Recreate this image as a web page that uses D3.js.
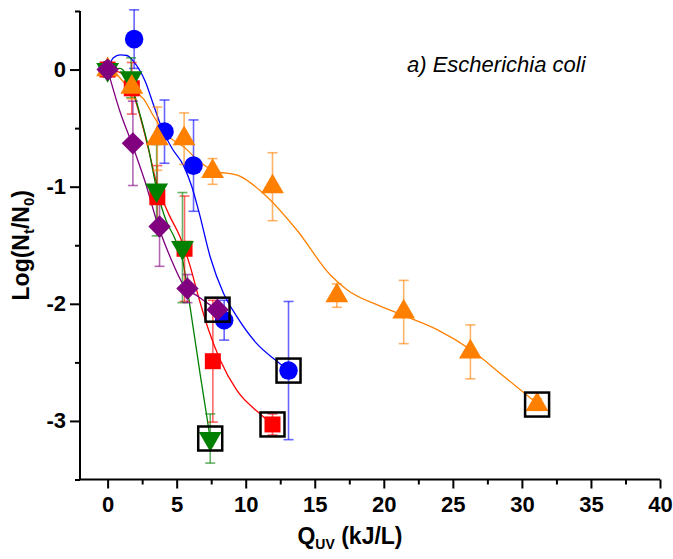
<!DOCTYPE html>
<html>
<head>
<meta charset="utf-8">
<script src="https://cdn.jsdelivr.net/npm/d3@7"></script>
<style>
  html, body { margin: 0; padding: 0; background: #fff; }
  svg { display: block; font-family: "Liberation Sans", Arial, sans-serif; }
</style>
</head>
<body>
<div id="chart"></div>
<script>
// --- measured points (x = Q_UV kJ/L, y = log(Nt/N0), e = error half-width) ---
const blueX  = [0, 1.92, 4.12, 6.22, 8.44, 13.1];
const blueY  = [0, 0.26, -0.53, -0.82, -2.14, -2.57];
const blueE  = [0, 0.25, 0.27, 0.39, 0.17, 0.59];

const redX   = [0, 1.75, 3.6, 5.57, 7.62, 11.94];
const redY   = [0, -0.16, -1.09, -1.53, -2.49, -3.03];
const redE   = [0, 0.22, 0.27, 0.45, 0.52, 0.09];

const greenX = [0, 1.7, 3.55, 5.42, 7.43];
const greenY = [0, -0.07, -1.03, -1.52, -3.15];
const greenE = [0, 0.17, 0.39, 0.47, 0.21];

const orangeX = [0, 1.75, 3.6, 5.54, 7.6, 11.94, 16.6, 21.44, 26.27, 31.1];
const orangeY = [0, -0.15, -0.59, -0.59, -0.87, -1.0, -1.93, -2.07, -2.41, -2.86];
const orangeE = [0, 0.1, 0.27, 0.22, 0.11, 0.29, 0.1, 0.27, 0.23, 0.05];

const purpleX = [0, 1.83, 3.76, 5.78, 7.96];
const purpleY = [0, -0.63, -1.34, -1.87, -2.05];
const purpleE = [0, 0.36, 0.34, 0.12, 0];

// --- fitted curves ---
const blueFit = [[0,0],[0.42,0.1],[0.9,0.125],[1.4,0.12],[1.87,0.07],[2.72,-0.1],[3.32,-0.3],
  [3.93,-0.5],[4.65,-0.67],[5.5,-0.82],[6.1,-1.0],[6.58,-1.2],[7.43,-1.6],[8.39,-1.91],
  [9.36,-2.11],[10.8,-2.34],[12.26,-2.49],[13.1,-2.57]];
const redFit = [[0,0],[1,-0.03],[1.75,-0.17],[2.4,-0.42],[3.0,-0.7],[3.5,-0.95],[4.41,-1.23],
  [5.25,-1.43],[5.98,-1.68],[6.58,-1.94],[7.3,-2.22],[8.15,-2.48],[9.36,-2.74],[11.05,-2.94],[11.94,-3.03]];
const greenFit = [[0,0],[0.9,0.01],[1.39,-0.05],[1.87,-0.19],[2.36,-0.39],[2.96,-0.67],[3.44,-0.96],
  [4.17,-1.27],[4.9,-1.45],[5.42,-1.62],[6.0,-2.05],[6.7,-2.6],[7.43,-3.15]];
const orangeFit = [[0,0],[0.8,-0.06],[1.39,-0.14],[2.6,-0.25],[3.44,-0.42],[4.29,-0.56],[5.5,-0.66],
  [6.7,-0.79],[7.6,-0.86],[9.57,-0.91],[11.3,-1.06],[13.7,-1.37],[16.1,-1.75],[17.33,-1.88],
  [19.75,-2.02],[21.44,-2.1],[23.86,-2.22],[26.27,-2.39],[28.7,-2.62],[31.1,-2.85]];
const purpleFit = [[0,0],[0.9,-0.36],[1.75,-0.63],[2.72,-0.96],[3.68,-1.34],[4.53,-1.6],
  [5.5,-1.84],[6.58,-1.94],[7.55,-2.02],[7.96,-2.05]];

const xMajor = [0, 5, 10, 15, 20, 25, 30, 35, 40];
const xMinor = [2.5, 7.5, 12.5, 17.5, 22.5, 27.5, 32.5, 37.5];
const yMajor = [0, -1, -2, -3];
const yMinor = [0.5, -0.5, -1.5, -2.5, -3.5];

const SERIES = [
  { xs: blueX,   ys: blueY,   es: blueE,   fit: blueFit,   color: "#0000ff", shape: "circle" },
  { xs: redX,    ys: redY,    es: redE,    fit: redFit,    color: "#ff0000", shape: "square" },
  { xs: greenX,  ys: greenY,  es: greenE,  fit: greenFit,  color: "#008000", shape: "tridown" },
  { xs: orangeX, ys: orangeY, es: orangeE, fit: orangeFit, color: "#ff8000", shape: "triup" },
  { xs: purpleX, ys: purpleY, es: purpleE, fit: purpleFit, color: "#800080", shape: "diamond" },
];

const W = 673, H = 559;
const svg = d3.select("#chart").append("svg").attr("width", W).attr("height", H);

const x = d3.scaleLinear().domain([-2, 40]).range([80, 660]);
const y = d3.scaleLinear().domain([-3.5, 0.5]).range([479.5, 11]);

// axes
const tickFont = g => g.selectAll("text")
  .attr("font-size", 22).attr("font-weight", "bold").attr("fill", "#000")
  .attr("font-family", "'Liberation Sans', Arial, sans-serif");

svg.append("g").attr("transform", `translate(0,${y(-3.5)})`)
  .call(d3.axisBottom(x).tickValues(xMajor).tickSize(9).tickPadding(8).tickFormat(d3.format("d")))
  .call(g => g.select(".domain").remove())
  .call(g => g.selectAll("line").attr("stroke-width", 2))
  .call(tickFont);
svg.append("g").attr("transform", `translate(0,${y(-3.5)})`)
  .call(d3.axisBottom(x).tickValues(xMinor).tickSize(5).tickFormat(""))
  .call(g => g.select(".domain").remove())
  .call(g => g.selectAll("line").attr("stroke-width", 2));

svg.append("g").attr("transform", `translate(${x(-2)},0)`)
  .call(d3.axisLeft(y).tickValues(yMajor).tickSize(10).tickPadding(4).tickFormat(d => d3.format("d")(d).replace("−", "-")))
  .call(g => g.select(".domain").remove())
  .call(g => g.selectAll("line").attr("stroke-width", 2))
  .call(tickFont);
svg.append("g").attr("transform", `translate(${x(-2)},0)`)
  .call(d3.axisLeft(y).tickValues(yMinor).tickSize(5).tickFormat(""))
  .call(g => g.select(".domain").remove())
  .call(g => g.selectAll("line").attr("stroke-width", 2));

// axis lines
svg.append("line").attr("x1", x(-2)).attr("x2", x(40)).attr("y1", y(-3.5)).attr("y2", y(-3.5))
  .attr("stroke", "#000").attr("stroke-width", 2);
svg.append("line").attr("x1", x(-2)).attr("x2", x(-2)).attr("y1", y(0.5)).attr("y2", y(-3.5))
  .attr("stroke", "#000").attr("stroke-width", 2);

// fits
const line = d3.line().x(d => x(d[0])).y(d => y(d[1])).curve(d3.curveMonotoneX);
SERIES.forEach(s => {
  svg.append("path").datum(s.fit)
    .attr("fill", "none").attr("stroke", s.color).attr("stroke-width", 1.3).attr("d", line);
});

// error bars
const cap = 5;
SERIES.forEach(s => {
  const g = svg.append("g").attr("stroke", s.color).attr("stroke-width", 1.6).attr("stroke-opacity", 0.6);
  s.xs.forEach((xv, i) => {
    const e = s.es[i];
    if (!e) return;
    const top = y(s.ys[i] + e), bot = y(s.ys[i] - e), cx = x(xv);
    g.append("line").attr("x1", cx).attr("x2", cx).attr("y1", top).attr("y2", bot);
    g.append("line").attr("x1", cx - cap).attr("x2", cx + cap).attr("y1", top).attr("y2", top);
    g.append("line").attr("x1", cx - cap).attr("x2", cx + cap).attr("y1", bot).attr("y2", bot);
  });
});

// markers
const sym = {
  circle:  { type: d3.symbolCircle,   size: 270, rot: 0 },
  square:  { type: d3.symbolSquare,   size: 256, rot: 0 },
  tridown: { type: d3.symbolTriangle, size: 225, rot: 180 },
  triup:   { type: d3.symbolTriangle, size: 225, rot: 0 },
  diamond: { type: d3.symbolSquare,   size: 250, rot: 45 },
};
SERIES.forEach(s => {
  const m = sym[s.shape];
  const path = d3.symbol().type(m.type).size(m.size)();
  s.xs.forEach((xv, i) => {
    svg.append("path").attr("d", path).attr("fill", s.color)
      .attr("transform", `translate(${x(xv)},${y(s.ys[i])}) rotate(${m.rot})`);
  });
});

// boxes round the last point of each series
SERIES.forEach(s => {
  const i = s.xs.length - 1;
  svg.append("rect")
    .attr("x", x(s.xs[i]) - 12).attr("y", y(s.ys[i]) - 12)
    .attr("width", 24).attr("height", 24)
    .attr("fill", "none").attr("stroke", "#000").attr("stroke-width", 2.5);
});

// titles
svg.append("text").attr("x", 407).attr("y", 72)
  .attr("font-size", 22).attr("font-style", "italic")
  .text("a) Escherichia coli");

const xt = svg.append("text").attr("x", 350).attr("y", 544)
  .attr("text-anchor", "middle").attr("font-size", 23).attr("font-weight", "bold");
xt.append("tspan").text("Q");
xt.append("tspan").attr("font-size", 14).attr("dy", 5).text("UV");
xt.append("tspan").attr("dy", -5).text(" (kJ/L)");

const yt = svg.append("text")
  .attr("transform", `translate(29,${(y(0.5) + y(-3.5)) / 2}) rotate(-90)`)
  .attr("text-anchor", "middle").attr("font-size", 23).attr("font-weight", "bold");
yt.append("tspan").text("Log(N");
yt.append("tspan").attr("font-size", 15).attr("dy", 5).text("t");
yt.append("tspan").attr("dy", -5).text("/N");
yt.append("tspan").attr("font-size", 15).attr("dy", 5).text("0");
yt.append("tspan").attr("dy", -5).text(")");
</script>
</body>
</html>
